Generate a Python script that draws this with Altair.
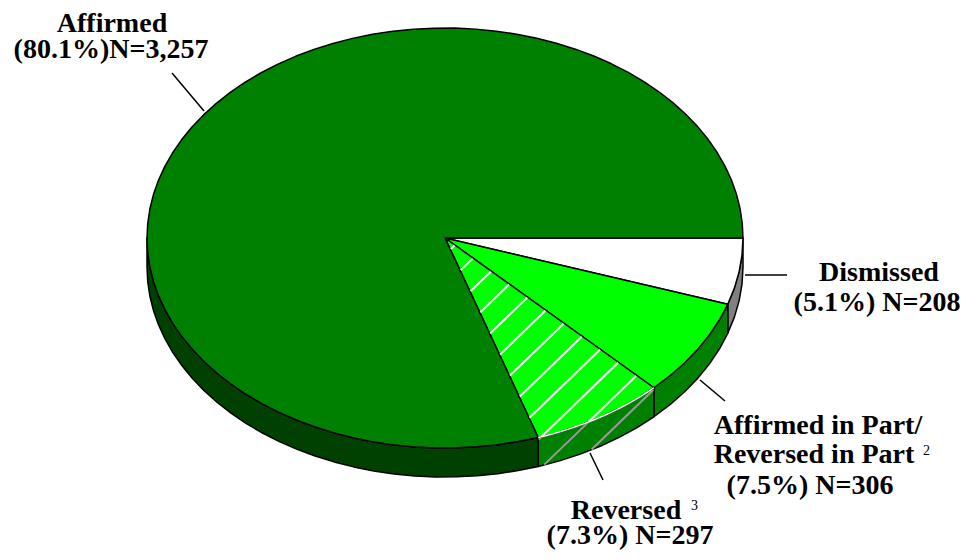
import math
import numpy as np
import pandas as pd
import altair as alt

# ---------------- data ----------------
categories = ["Dismissed", "Affirmed in Part/Reversed in Part", "Reversed", "Affirmed"]
counts = [208, 306, 297, 3257]
percents = [5.1, 7.5, 7.3, 80.1]
footnotes = ["", "2", "3", ""]

# ---------------- style / layout ----------------
top_colors = ["#FFFFFF", "#00FF00", "#00FF00", "#008000"]
side_colors = ["#808080", "#008000", "#008000", "#004000"]
W, H = 955, 543            # plot area (page is offset by 8px)
CX, CY = 437, 230          # pie centre in plot pixels
RX, RY = 298, 210          # ellipse radii in pixels
DEPTH = 29 / RY            # thickness of the pie (normalised units)
FONT = "Liberation Serif"
HATCH_ANGLE = math.radians(44)
HATCH_SPACING = 22
HATCH_PHASE = 12

xscale = alt.Scale(domain=[-CX / RX, (W - CX) / RX], nice=False, zero=False)
yscale = alt.Scale(domain=[-CY / RY, (H - CY) / RY], nice=False, zero=False, reverse=True)

total = sum(counts)
bounds = []
acc = 0
for c in counts:
    a0 = 2 * math.pi * acc / total
    acc += c
    a1 = 2 * math.pi * acc / total
    bounds.append((a0, a1))

# ---------------- polygons ----------------
top_rows, side_rows = [], []
for i, (a0, a1) in enumerate(bounds):
    n = max(3, int(math.degrees(a1 - a0) / 4))
    pts = [(0.0, 0.0)] + [
        (math.cos(a0 + (a1 - a0) * k / n), math.sin(a0 + (a1 - a0) * k / n)) for k in range(n + 1)
    ] + [(0.0, 0.0)]
    for k, (x, y) in enumerate(pts):
        top_rows.append(dict(poly=i, ord=k, x=x, y=y, fill=top_colors[i]))
    s0, s1 = max(a0, 0.0), min(a1, math.pi)
    if s1 > s0:
        m = max(3, int(math.degrees(s1 - s0) / 4))
        arc = [(math.cos(s0 + (s1 - s0) * k / m), math.sin(s0 + (s1 - s0) * k / m)) for k in range(m + 1)]
        ring = arc + [(x, y + DEPTH) for (x, y) in reversed(arc)] + [arc[0]]
        for k, (x, y) in enumerate(ring):
            side_rows.append(dict(poly=i, ord=k, x=x, y=y, fill=side_colors[i]))

top_df = pd.DataFrame(top_rows)
side_df = pd.DataFrame(side_rows)

# ---------------- hatching of the "Reversed" slice ----------------
ri = categories.index("Reversed")
ra0, ra1 = bounds[ri]
d = np.array([math.cos(HATCH_ANGLE), -math.sin(HATCH_ANGLE)])
nrm = np.array([math.sin(HATCH_ANGLE), math.cos(HATCH_ANGLE)])
t = np.arange(-500, 500, 0.25)


def segments(inside_fn):
    segs = []
    for s in np.arange(HATCH_PHASE, 400, HATCH_SPACING):
        X = s * nrm[0] + t * d[0]
        Y = s * nrm[1] + t * d[1]
        x, y = X / RX, Y / RY
        ok = inside_fn(x, y)
        if ok.sum() > 4:
            idx = np.where(ok)[0]
            i0, i1 = idx[0] + 2, idx[-1] - 2
            segs.append(dict(x=x[i0], y=y[i0], x2=x[i1], y2=y[i1]))
    return pd.DataFrame(segs)


def in_top(x, y):
    ang = np.mod(np.arctan2(y, x), 2 * np.pi)
    return (x * x + y * y <= 1) & (ang >= ra0) & (ang <= ra1)


def in_side(x, y):
    xc = np.clip(x, -1, 1)
    a = np.arccos(xc)
    top = np.sin(a)
    return (x >= math.cos(ra1)) & (x <= math.cos(ra0)) & (y >= top) & (y <= top + DEPTH)


white_df = segments(in_top)
gray_df = segments(in_side)

arc_pts = [(math.cos(ra0 + (ra1 - ra0) * k / 20), math.sin(ra0 + (ra1 - ra0) * k / 20)) for k in range(21)]
edge_df = pd.DataFrame([dict(ord=k, x=x, y=y) for k, (x, y) in enumerate(arc_pts)])

# ---------------- labels ----------------
def to_x(px):
    return (px - 8 - CX) / RX


def to_y(py):
    return (py - 8 - CY) / RY


name_lines = {
    "Dismissed": ["Dismissed"],
    "Affirmed in Part/Reversed in Part": ["Affirmed in Part/", "Reversed in Part"],
    "Reversed": ["Reversed"],
    "Affirmed": ["Affirmed"],
}
value_fmt = {
    "Dismissed": "({p}%) N={n:,}",
    "Affirmed in Part/Reversed in Part": "({p}%) N={n:,}",
    "Reversed": "({p}%) N={n:,}",
    "Affirmed": "({p}%)N={n:,}",
}
# page-pixel anchors (centre x, baseline y) for each label line
label_anchor = {
    "Dismissed": [(879, 281), (877, 311)],
    "Affirmed in Part/Reversed in Part": [(818, 434), (814, 463), (810, 494)],
    "Reversed": [(626, 519), (630, 544)],
    "Affirmed": [(112, 32), (111, 58)],
}
foot_anchor = {"Affirmed in Part/Reversed in Part": (923, 455), "Reversed": (691, 510)}
leader = {
    "Dismissed": (745, 275, 787, 275),
    "Affirmed in Part/Reversed in Part": (700, 380, 725, 401),
    "Reversed": (590, 453, 603, 480),
    "Affirmed": (172, 73, 204, 111),
}

label_rows, foot_rows, lead_rows = [], [], []
for cat, cnt, pct, fn in zip(categories, counts, percents, footnotes):
    lines = name_lines[cat] + [value_fmt[cat].format(p=pct, n=cnt)]
    for txt, (px, py) in zip(lines, label_anchor[cat]):
        label_rows.append(dict(text=txt, x=to_x(px), y=to_y(py)))
    if fn:
        fx, fy = foot_anchor[cat]
        foot_rows.append(dict(text=fn, x=to_x(fx), y=to_y(fy)))
    x1, y1, x2, y2 = leader[cat]
    lead_rows.append(dict(x=to_x(x1), y=to_y(y1), x2=to_x(x2), y2=to_y(y2)))

label_df = pd.DataFrame(label_rows)
foot_df = pd.DataFrame(foot_rows)
lead_df = pd.DataFrame(lead_rows)

X = alt.X("x:Q", scale=xscale, axis=None)
Y = alt.Y("y:Q", scale=yscale, axis=None)

sides = alt.Chart(side_df).mark_line(stroke="black", strokeWidth=1.5, strokeJoin="round").encode(
    x=X, y=Y, order="ord:Q", detail="poly:N", fill=alt.Fill("fill:N", scale=None)
)
gray = alt.Chart(gray_df).mark_rule(stroke="#9A9A9A", strokeWidth=2).encode(x=X, y=Y, x2="x2:Q", y2="y2:Q")
tops = alt.Chart(top_df).mark_line(stroke="black", strokeWidth=1.5, strokeJoin="round").encode(
    x=X, y=Y, order="ord:Q", detail="poly:N", fill=alt.Fill("fill:N", scale=None)
)
white = alt.Chart(white_df).mark_rule(stroke="white", strokeWidth=2).encode(x=X, y=Y, x2="x2:Q", y2="y2:Q")
edge = alt.Chart(edge_df).mark_line(stroke="white", strokeWidth=1.5).encode(x=X, y=Y, order="ord:Q")
leads = alt.Chart(lead_df).mark_rule(stroke="black", strokeWidth=1.5).encode(x=X, y=Y, x2="x2:Q", y2="y2:Q")
labels = alt.Chart(label_df).mark_text(
    font=FONT, fontWeight="bold", fontSize=28, align="center", baseline="alphabetic", color="black"
).encode(x=X, y=Y, text="text:N")
foots = alt.Chart(foot_df).mark_text(
    font=FONT, fontSize=14, align="left", baseline="alphabetic", color="black"
).encode(x=X, y=Y, text="text:N")

chart = alt.layer(sides, gray, tops, white, edge, leads, labels, foots).properties(
    width=W, height=H, padding=0, autosize=alt.AutoSizeParams(type="none")
).configure_view(stroke=None)

chart.save("out.html", embed_options={"renderer": "svg", "actions": False})
